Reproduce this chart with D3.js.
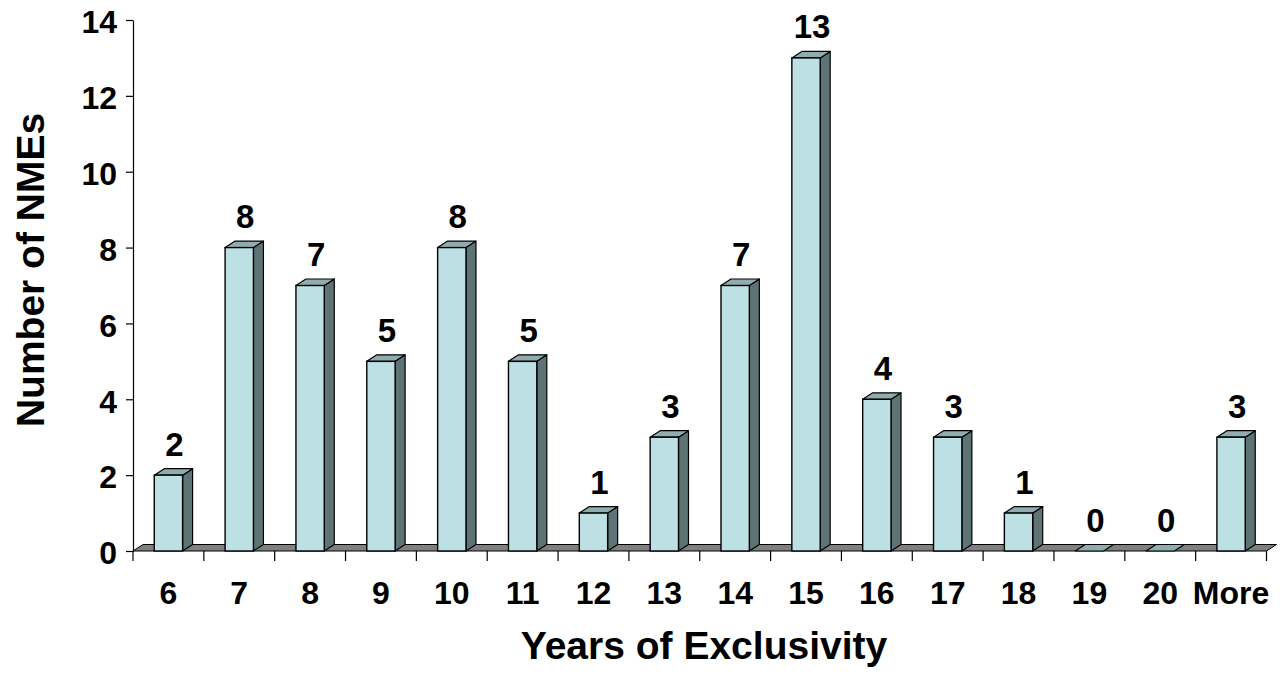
<!DOCTYPE html>
<html>
<head>
<meta charset="utf-8">
<script src="https://cdn.jsdelivr.net/npm/d3@7"></script>
<style>
  html, body { margin: 0; padding: 0; background: #fff; }
  svg { display: block; font-family: "Liberation Sans", Arial, sans-serif; font-weight: bold; }
</style>
</head>
<body>
<svg id="chart" width="1280" height="678"></svg>
<script>
const categories = ["6","7","8","9","10","11","12","13","14","15","16","17","18","19","20","More"];
const values = [2, 8, 7, 5, 8, 5, 1, 3, 7, 13, 4, 3, 1, 0, 0, 3];
const yTicks = [0, 2, 4, 6, 8, 10, 12, 14];
const xTitle = "Years of Exclusivity";
const yTitle = "Number of NMEs";

(function () {
const svg = d3.select("#chart");
const plotLeft = 133, plotRight = 1266.5, plotTop = 20, plotBottom = 551;
const dx = 10, dy = -6.5;

const x = d3.scaleBand().domain(categories).range([plotLeft, plotRight]).paddingInner(0).paddingOuter(0);
const y = d3.scaleLinear().domain([0, 14]).range([plotBottom, plotTop]);
const bw = x.bandwidth() * 0.4;

const colFront = "#bce0e3", colSide = "#5e7375", colTop = "#8fadb0", colFloor = "#808080";

// floor
svg.append("path")
  .attr("d", `M${plotLeft},${plotBottom} L${plotRight},${plotBottom} L${plotRight + dx},${plotBottom + dy} L${plotLeft + dx},${plotBottom + dy} Z`)
  .attr("fill", colFloor).attr("stroke", "#000").attr("stroke-width", 1);

// y axis
const yAxis = d3.axisLeft(y).tickValues(yTicks).tickSize(7).tickPadding(9).tickSizeOuter(0);
const gy = svg.append("g").attr("transform", `translate(${plotLeft},0)`).call(yAxis);
gy.select(".domain").attr("stroke", "#000").attr("stroke-width", 1.2);
gy.selectAll(".tick line").attr("stroke", "#000").attr("stroke-width", 1.2);
gy.selectAll(".tick text").attr("font-size", 32).attr("font-weight", "bold").attr("fill", "#000")
  .attr("font-family", '"Liberation Sans", Arial, sans-serif').attr("dy", "0.4em");

// x axis: ticks at category boundaries
const boundaries = categories.map(c => x(c)).concat([plotRight]);
svg.append("g").selectAll("line").data(boundaries).join("line")
  .attr("x1", d => d).attr("x2", d => d).attr("y1", plotBottom).attr("y2", plotBottom + 10)
  .attr("stroke", "#000").attr("stroke-width", 1.2);
svg.append("g").selectAll("text").data(categories).join("text")
  .attr("x", d => x(d) + x.bandwidth() / 2).attr("y", 604)
  .attr("text-anchor", "middle").attr("font-size", 32).attr("fill", "#000")
  .text(d => d);

// bars
const rows = categories.map((c, i) => ({ c, v: values[i] }));
const bars = svg.append("g").selectAll("g").data(rows).join("g");
bars.each(function (d) {
  const g = d3.select(this);
  const x0 = x(d.c) + (x.bandwidth() - bw) / 2, x1 = x0 + bw;
  const yt = y(d.v);
  if (d.v === 0) {
    g.append("path")
      .attr("d", `M${x0},${plotBottom} L${x1},${plotBottom} L${x1 + dx},${plotBottom + dy} L${x0 + dx},${plotBottom + dy} Z`)
      .attr("fill", colTop).attr("stroke", "#000").attr("stroke-width", 1.2).attr("stroke-linejoin", "round");
    return;
  }
  g.append("path")
    .attr("d", `M${x1},${plotBottom} L${x1},${yt} L${x1 + dx},${yt + dy} L${x1 + dx},${plotBottom + dy} Z`)
    .attr("fill", colSide).attr("stroke", "#000").attr("stroke-width", 1.2).attr("stroke-linejoin", "round");
  g.append("path")
    .attr("d", `M${x0},${yt} L${x1},${yt} L${x1 + dx},${yt + dy} L${x0 + dx},${yt + dy} Z`)
    .attr("fill", colTop).attr("stroke", "#000").attr("stroke-width", 1.2).attr("stroke-linejoin", "round");
  g.append("rect").attr("x", x0).attr("y", yt).attr("width", bw).attr("height", plotBottom - yt)
    .attr("fill", colFront).attr("stroke", "#000").attr("stroke-width", 1.4);
});

// value labels
svg.append("g").selectAll("text").data(rows).join("text")
  .attr("x", d => x(d.c) + x.bandwidth() / 2 + 6)
  .attr("y", d => y(d.v) - 19.5)
  .attr("text-anchor", "middle").attr("font-size", 33).attr("fill", "#000")
  .text(d => d.v);

// titles
svg.append("text").attr("x", 704).attr("y", 659).attr("text-anchor", "middle")
  .attr("font-size", 39).attr("fill", "#000").text(xTitle);
svg.append("text").attr("transform", "translate(44,270) rotate(-90)").attr("text-anchor", "middle")
  .attr("font-size", 39).attr("fill", "#000").text(yTitle);
})();
</script>
</body>
</html>
